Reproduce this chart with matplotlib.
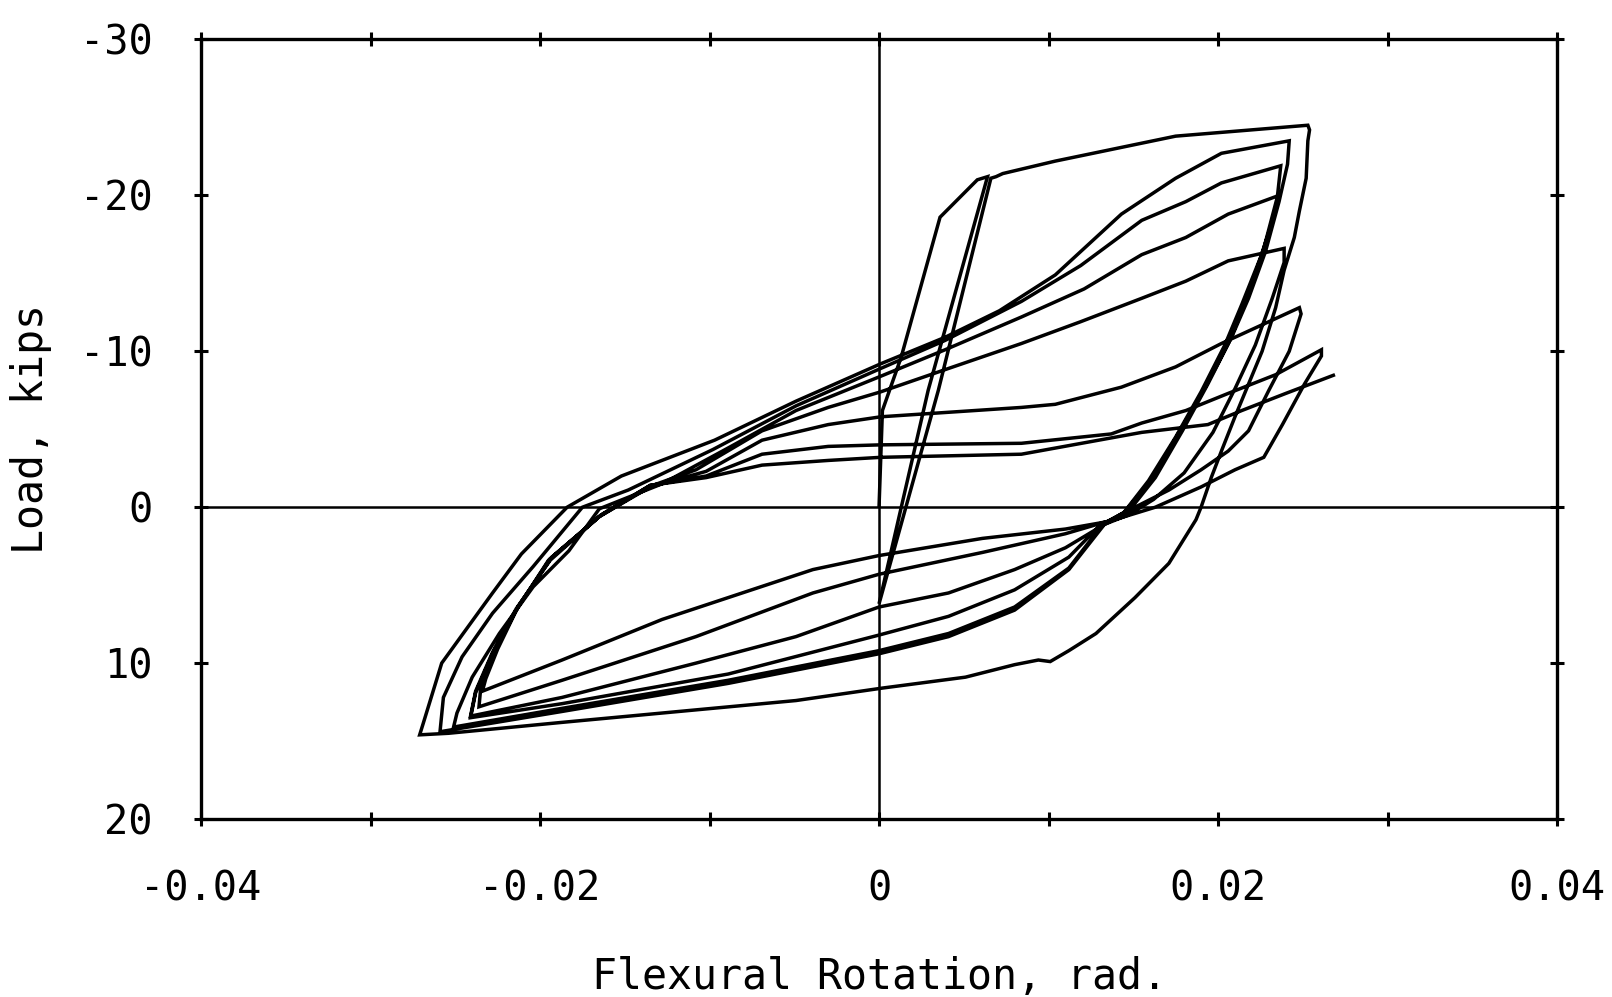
import numpy as np
import matplotlib
matplotlib.use("Agg")
import matplotlib.pyplot as plt

plt.rcParams["font.family"] = ["DejaVu Sans Mono"]
plt.rcParams["axes.unicode_minus"] = False

# ---- cyclic test record: flexural rotation (rad) vs load (kips) ----
# initial small cycle, then reload towards the first large excursion
rot0 = [0.0, 0.0002, 0.0013, 0.0036, 0.0058, 0.0064, 0.0029, 0.0, 0.0035, 0.0066]
load0 = [0.0, -6.2, -9.6, -18.6, -21.0, -21.2, -7.5, 6.2, -7.5, -21.1]

# cycle 1: yield to peak, unload and push to the opposite peak
rot1 = [0.0069, 0.0073, 0.0104, 0.0175, 0.0253, 0.0254, 0.0253, 0.0252, 0.0248,
        0.0245, 0.0239, 0.0234, 0.0226, 0.0218, 0.0210, 0.0202, 0.0196, 0.0190,
        0.0187, 0.0171, 0.0151, 0.0128, 0.0112, 0.0101, 0.0094, 0.0080, 0.0051,
        0.0002, -0.0049, -0.0108, -0.0187, -0.0254, -0.0271]
load1 = [-21.2, -21.4, -22.2, -23.8, -24.5, -24.2, -23.5, -21.1, -19.0,
         -17.3, -15.2, -12.8, -10.0, -7.9, -5.8, -3.6, -1.9, 0.0,
         0.8, 3.6, 5.8, 8.1, 9.2, 9.9, 9.8, 10.1, 10.9,
         11.6, 12.4, 13.0, 13.8, 14.5, 14.6]

# cycle 2
rot2u = [-0.0269, -0.0258, -0.0248, -0.0228, -0.0211, -0.0184, -0.0152, -0.0097,
         -0.0049, 0.0001, 0.0039, 0.0071, 0.0104, 0.0143, 0.0175, 0.0202, 0.0242]
load2u = [13.9, 10.0, 8.5, 5.5, 3.0, 0.0, -2.0, -4.3,
          -6.8, -9.2, -10.9, -12.6, -14.9, -18.8, -21.1, -22.7, -23.5]
rot2d = [0.0241, 0.0236, 0.0228, 0.0218, 0.0208, 0.0194, 0.0179, 0.0163, 0.0147,
         0.0133, 0.0112, 0.0080, 0.0041, 0.0, -0.0089, -0.0187, -0.0259]
load2d = [-22.0, -19.6, -16.4, -13.4, -10.9, -7.9, -4.9, -1.9, 0.3,
          1.1, 4.0, 6.6, 8.3, 9.4, 11.3, 13.1, 14.4]

# cycle 3
rot3u = [-0.0257, -0.0246, -0.0228, -0.0204, -0.0175, -0.0148, -0.0098, -0.0049,
         0.0001, 0.0039, 0.0084, 0.0119, 0.0155, 0.0181, 0.0202, 0.0237]
load3u = [12.2, 9.6, 6.8, 3.8, 0.0, -1.1, -3.7, -6.5,
          -8.9, -10.7, -13.2, -15.5, -18.4, -19.6, -20.8, -21.9]
rot3d = [0.0235, 0.0227, 0.0217, 0.0207, 0.0193, 0.0177, 0.0161, 0.0145,
         0.0132, 0.0112, 0.0080, 0.0041, 0.0, -0.0089, -0.0187, -0.0251]
load3d = [-19.9, -16.6, -13.4, -10.7, -7.8, -4.8, -1.8, 0.3,
          1.1, 3.9, 6.4, 8.1, 9.2, 11.1, 12.9, 14.1]

# cycle 4
rot4u = [-0.0249, -0.0240, -0.0224, -0.0204, -0.0183, -0.0165, -0.0128, -0.0089,
         -0.0049, 0.0001, 0.0039, 0.0084, 0.0121, 0.0155, 0.0181, 0.0206, 0.0236]
load4u = [13.2, 10.9, 8.1, 5.1, 2.8, 0.1, -1.5, -3.8,
          -6.2, -8.4, -10.1, -12.2, -14.0, -16.2, -17.3, -18.8, -20.0]
rot4d = [0.0232, 0.0225, 0.0214, 0.0204, 0.0190, 0.0175, 0.0159, 0.0144,
         0.0130, 0.0112, 0.0080, 0.0041, 0.0, -0.0089, -0.0187, -0.0241]
load4d = [-18.3, -16.0, -13.0, -10.4, -7.4, -4.5, -1.7, 0.4,
          1.2, 3.2, 5.3, 7.0, 8.2, 10.7, 12.6, 13.5]

# cycle 5
rot5u = [-0.0238, -0.0228, -0.0214, -0.0195, -0.0165, -0.0136, -0.0108, -0.0069,
         -0.0030, 0.0001, 0.0041, 0.0084, 0.0119, 0.0155, 0.0181, 0.0206, 0.0239]
load5u = [11.9, 9.4, 6.6, 3.4, 0.6, -1.3, -2.4, -4.9,
          -6.4, -7.4, -8.9, -10.5, -11.9, -13.4, -14.5, -15.8, -16.6]
rot5d = [0.0239, 0.0232, 0.0222, 0.0210, 0.0197, 0.0180, 0.0162, 0.0147, 0.0133,
         0.0110, 0.0080, 0.0041, 0.0, -0.0049, -0.0108, -0.0187, -0.0241]
load5d = [-15.7, -13.4, -10.4, -7.6, -4.8, -2.2, -0.5, 0.5, 1.1,
          2.6, 4.0, 5.5, 6.4, 8.3, 10.0, 12.2, 13.4]

# cycle 6
rot6u = [-0.0238, -0.0228, -0.0214, -0.0194, -0.0165, -0.0135, -0.0102, -0.0069,
         -0.0030, 0.0001, 0.0084, 0.0104, 0.0143, 0.0175, 0.0202, 0.0248]
load6u = [11.8, 9.3, 6.5, 3.4, 0.6, -1.3, -2.3, -4.3,
          -5.3, -5.8, -6.4, -6.6, -7.7, -9.0, -10.5, -12.8]
rot6d = [0.0249, 0.0242, 0.0230, 0.0218, 0.0206, 0.0190, 0.0171, 0.0151,
         0.0135, 0.0110, 0.0061, 0.0, -0.0039, -0.0108, -0.0187, -0.0236]
load6d = [-12.4, -10.0, -7.5, -4.9, -3.6, -2.4, -1.1, 0.0,
          0.9, 1.7, 2.9, 4.3, 5.5, 8.3, 11.1, 12.8]

# cycle 7
rot7u = [-0.0235, -0.0227, -0.0213, -0.0194, -0.0164, -0.0135, -0.0102, -0.0069,
         -0.0030, 0.0001, 0.0084, 0.0137, 0.0155, 0.0181, 0.0206, 0.0234, 0.0261]
load7u = [11.6, 9.2, 6.4, 3.3, 0.5, -1.4, -2.0, -3.4,
          -3.9, -4.0, -4.1, -4.7, -5.4, -6.2, -7.3, -8.5, -10.1]
rot7d = [0.0261, 0.0251, 0.0238, 0.0227, 0.0210, 0.0190, 0.0163, 0.0136,
         0.0110, 0.0061, 0.0, -0.0039, -0.0128, -0.0187, -0.0234]
load7d = [-9.7, -7.9, -5.3, -3.2, -2.4, -1.3, 0.0, 0.9,
          1.4, 2.0, 3.1, 4.0, 7.2, 9.8, 11.8]

# final reloading branch
rot8u = [-0.0232, -0.0225, -0.0213, -0.0193, -0.0164, -0.0135, -0.0102, -0.0069,
         -0.0030, 0.0001, 0.0084, 0.0155, 0.0194, 0.0214, 0.0240, 0.0269]
load8u = [11.0, 9.1, 6.4, 3.2, 0.5, -1.4, -1.9, -2.7,
          -3.0, -3.2, -3.4, -4.8, -5.3, -6.2, -7.3, -8.5]

x_ticks = [-0.04, -0.03, -0.02, -0.01, 0.0, 0.01, 0.02, 0.03, 0.04]
x_labels = ["-0.04", "", "-0.02", "", "0", "", "0.02", "", "0.04"]
y_ticks = [-30, -20, -10, 0, 10, 20]
y_labels = ["-30", "-20", "-10", "0", "10", "20"]

rotation = np.concatenate([rot0, rot1, rot2u, rot2d, rot3u, rot3d, rot4u, rot4d,
                           rot5u, rot5d, rot6u, rot6d, rot7u, rot7d, rot8u])
load = np.concatenate([load0, load1, load2u, load2d, load3u, load3d, load4u, load4d,
                       load5u, load5d, load6u, load6d, load7u, load7d, load8u])

fig = plt.figure(figsize=(16.12, 9.97), dpi=100)
ax = fig.add_axes([0.1247, 0.1785, 0.8412, 0.7819])

ax.set_xlim(-0.04, 0.04)
ax.set_ylim(20, -30)

# reference cross through the origin
ax.axhline(0, color="black", lw=1.8, zorder=1)
ax.axvline(0, color="black", lw=1.8, zorder=1)

ax.plot(rotation, load, color="black", lw=2.5, solid_joinstyle="miter",
        solid_capstyle="butt", zorder=2)

for side in ax.spines.values():
    side.set_linewidth(2.4)

ax.set_xticks(x_ticks)
ax.set_xticklabels(x_labels)
ax.set_yticks(y_ticks)
ax.set_yticklabels(y_labels)
ax.tick_params(axis="both", direction="inout", length=10, width=2.2,
               labelsize=29, top=True, right=True)
ax.tick_params(axis="x", pad=31)
ax.tick_params(axis="y", pad=30)

ax.set_xlabel("Flexural Rotation, rad.", fontsize=30, labelpad=34)
ax.set_ylabel("Load, kips", fontsize=30, labelpad=20)

fig.savefig("out.png", dpi=100)
